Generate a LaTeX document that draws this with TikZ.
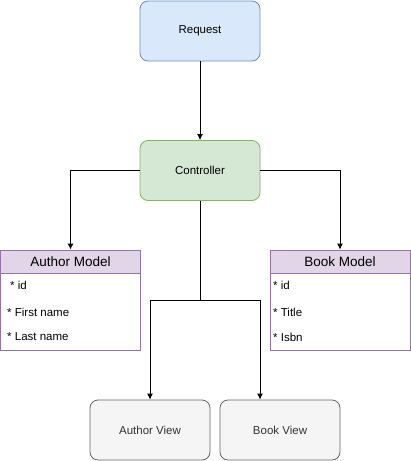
\documentclass[tikz,border=0pt]{standalone}
\usepackage{fontspec}
\setmainfont{Liberation Sans}
\usepackage{tikz}
\usetikzlibrary{positioning, arrows.meta}
\definecolor{reqfill}{HTML}{DAE8FC}
\definecolor{reqdraw}{HTML}{6C8EBF}
\definecolor{ctrlfill}{HTML}{D5E8D4}
\definecolor{ctrldraw}{HTML}{82B366}
\definecolor{modfill}{HTML}{E1D5E7}
\definecolor{moddraw}{HTML}{9673A6}
\definecolor{viewfill}{HTML}{F5F5F5}
\definecolor{viewdraw}{HTML}{666666}
\definecolor{viewtext}{HTML}{333333}
\tikzset{>={Latex[length=6pt,width=6pt]}}
\tikzset{
  box/.style={draw, rounded corners=8pt, line width=0.8pt, minimum width=120pt,
    minimum height=60pt, inner sep=0pt, font=\fontsize{11.5}{13}\selectfont},
  modhead/.style={draw=moddraw, fill=modfill, line width=0.8pt, minimum width=140pt,
    minimum height=23pt, inner sep=0pt, font=\fontsize{13.5}{15}\selectfont},
  modbody/.style={draw=moddraw, fill=white, line width=0.8pt, minimum width=140pt,
    minimum height=77pt, inner sep=0pt},
  field/.style={anchor=west, inner sep=0pt, font=\fontsize{11.5}{13}\selectfont},
  link/.style={->, line width=0.9pt}
}
\begin{document}
\begin{tikzpicture}[x=1pt, y=-1pt]
  \useasboundingbox (0,0) rectangle (411,461);
  \node[box, draw=reqdraw, fill=reqfill] (req) at (200,31) {Request};
  \node[box, draw=ctrldraw, fill=ctrlfill] (ctrl) at (200,170.5) {Controller};
  % models
  \node[modhead] (amodel) at (70.5,261.5) {Author Model};
  \node[modbody, below=0pt of amodel] (abody) {};
  \node[field] (aid) at (10,285) {* id};
  \node[field] (afirst) at (7,312) {* First name};
  \node[field] (alast) at (7,337) {* Last name};
  \node[modhead] (bmodel) at (340,261.5) {Book Model};
  \node[modbody, below=0pt of bmodel] (bbody) {};
  \node[field] (bid) at (273,285) {* id};
  \node[field] (btitle) at (273,312) {* Title};
  \node[field] (bisbn) at (273,337) {* Isbn};
  % views
  \node[box, draw=viewdraw, fill=viewfill, text=viewtext] (aview) at (150,430) {Author View};
  \node[box, draw=viewdraw, fill=viewfill, text=viewtext] (bview) at (280,430) {Book View};
  \coordinate (fork) at (200,300);
  \draw[link] (req) -- (ctrl);
  \draw[link] (ctrl.west) -| (amodel.north);
  \draw[link] (ctrl.east) -| (bmodel.north);
  \draw[line width=0.9pt] (ctrl.south) -- (fork);
  \draw[link] (fork) -| (aview.north);
  \draw[link] (fork) -| ([xshift=-20pt]bview.north);
\end{tikzpicture}
\end{document}
